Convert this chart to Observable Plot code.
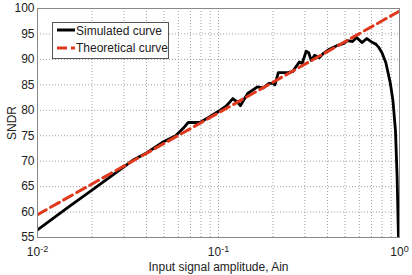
<!DOCTYPE html>
<html>
<head>
<meta charset="utf-8">
<script src="https://cdn.jsdelivr.net/npm/d3@7"></script>
<script src="https://cdn.jsdelivr.net/npm/@observablehq/plot@0.6"></script>
<style>
  html, body { margin: 0; padding: 0; background: white; }
  svg { display: block; }
</style>
</head>
<body>
<div id="chart"></div>
<script>
// Simulated curve
const simAmp  = [0.01, 0.015, 0.02, 0.025, 0.03, 0.034, 0.04, 0.049, 0.058, 0.064, 0.068, 0.079, 0.09, 0.1, 0.11, 0.12, 0.127, 0.132, 0.145, 0.164, 0.177, 0.19, 0.2, 0.205, 0.214, 0.24, 0.257, 0.266, 0.28, 0.29, 0.305, 0.315, 0.325, 0.34, 0.36, 0.38, 0.41, 0.45, 0.49, 0.516, 0.55, 0.58, 0.62, 0.66, 0.71, 0.74, 0.77, 0.8, 0.84, 0.89, 0.92, 0.95, 0.97, 0.987];
const simSNDR = [56.5, 61.1, 64.3, 66.8, 68.9, 70.3, 71.6, 73.7, 75.0, 76.5, 77.6, 77.6, 78.8, 79.8, 80.8, 82.3, 81.6, 80.9, 83.3, 84.6, 84.4, 85.3, 85.3, 85.0, 87.4, 87.4, 87.6, 88.4, 89.5, 89.2, 91.6, 91.3, 89.8, 90.8, 90.3, 91.2, 92.0, 92.7, 93.1, 93.7, 93.5, 94.3, 93.3, 94.1, 93.3, 93.0, 92.3, 91.3, 89.4, 85.3, 81.9, 76.0, 67.0, 55.0];
// Theoretical curve
const theoAmp  = [0.01, 1];
const theoSNDR = [59.5, 99.5];
// Ticks
const yTicks = [55, 60, 65, 70, 75, 80, 85, 90, 95, 100];
const xTicks = [0.01, 0.1, 1];
const xTickLabels = [["10", "-2"], ["10", "-1"], ["10", "0"]];
const xGrid = [0.02, 0.03, 0.04, 0.05, 0.06, 0.07, 0.08, 0.09, 0.1, 0.2, 0.3, 0.4, 0.5, 0.6, 0.7, 0.8, 0.9];
const seriesNames = ["Simulated curve", "Theoretical curve"];

const sim = simAmp.map((a, i) => ({a, s: simSNDR[i]}));
const theo = theoAmp.map((a, i) => ({a, s: theoSNDR[i]}));
const red = "#e0381c";

const chart = Plot.plot({
  width: 412, height: 275,
  marginLeft: 37, marginRight: 13, marginTop: 8, marginBottom: 38,
  style: {fontFamily: "'Liberation Sans', Arial, sans-serif", fontSize: "12px", background: "white", color: "#222"},
  x: {type: "log", domain: [0.01, 1]},
  y: {domain: [55, 100]},
  marks: [
    Plot.ruleX(xGrid, {stroke: "#888", strokeOpacity: 0.8, strokeDasharray: "1,2", strokeWidth: 1}),
    Plot.ruleY(yTicks.slice(1, -1), {stroke: "#888", strokeOpacity: 0.8, strokeDasharray: "1,2", strokeWidth: 1}),
    Plot.line(sim, {x: "a", y: "s", stroke: "black", strokeWidth: 2.8, clip: true}),
    Plot.line(theo, {x: "a", y: "s", stroke: red, strokeWidth: 3, strokeDasharray: "10,5", clip: true}),
    Plot.frame({stroke: "#888"}),
    Plot.axisY({ticks: yTicks, tickSize: 0, tickPadding: 3, label: "SNDR", labelAnchor: "center", labelArrow: "none", labelOffset: 30}),
    Plot.axisX({ticks: xTicks, tickSize: 0, tickPadding: 10, tickFormat: (d) => String(Math.round(Math.log10(d))), label: "Input signal amplitude, Ain", labelAnchor: "center", labelArrow: "none", labelOffset: 33})
  ]
});
document.getElementById("chart").appendChild(chart);

// superscript tick labels
const svg = d3.select(chart);
svg.selectAll('[aria-label="x-axis tick label"] text').each(function(d, i) {
  const t = d3.select(this);
  const lab = xTickLabels[i];
  t.text(null);
  t.append("tspan").text(lab[0]);
  t.append("tspan").attr("dy", "-0.45em").attr("font-size", "9px").text(lab[1]);
});

// legend
const lg = svg.append("g")
  .attr("font-family", "'Liberation Sans', Arial, sans-serif")
  .attr("font-size", "12px")
  .attr("text-anchor", "start");
lg.append("rect").attr("x", 52.5).attr("y", 22.5).attr("width", 116).attr("height", 36)
  .style("fill", "white").style("stroke", "#555").style("stroke-width", "1px");
lg.append("line").attr("x1", 57).attr("x2", 75).attr("y1", 30).attr("y2", 30)
  .style("stroke", "black").style("stroke-width", "3px");
lg.append("line").attr("x1", 57).attr("x2", 75).attr("y1", 48).attr("y2", 48)
  .style("stroke", red).style("stroke-width", "3px").style("stroke-dasharray", "10,4");
lg.append("text").attr("x", 76).attr("y", 34.5).attr("fill", "#222").text(seriesNames[0]);
lg.append("text").attr("x", 76).attr("y", 52).attr("fill", "#222").text(seriesNames[1]);
</script>
</body>
</html>
